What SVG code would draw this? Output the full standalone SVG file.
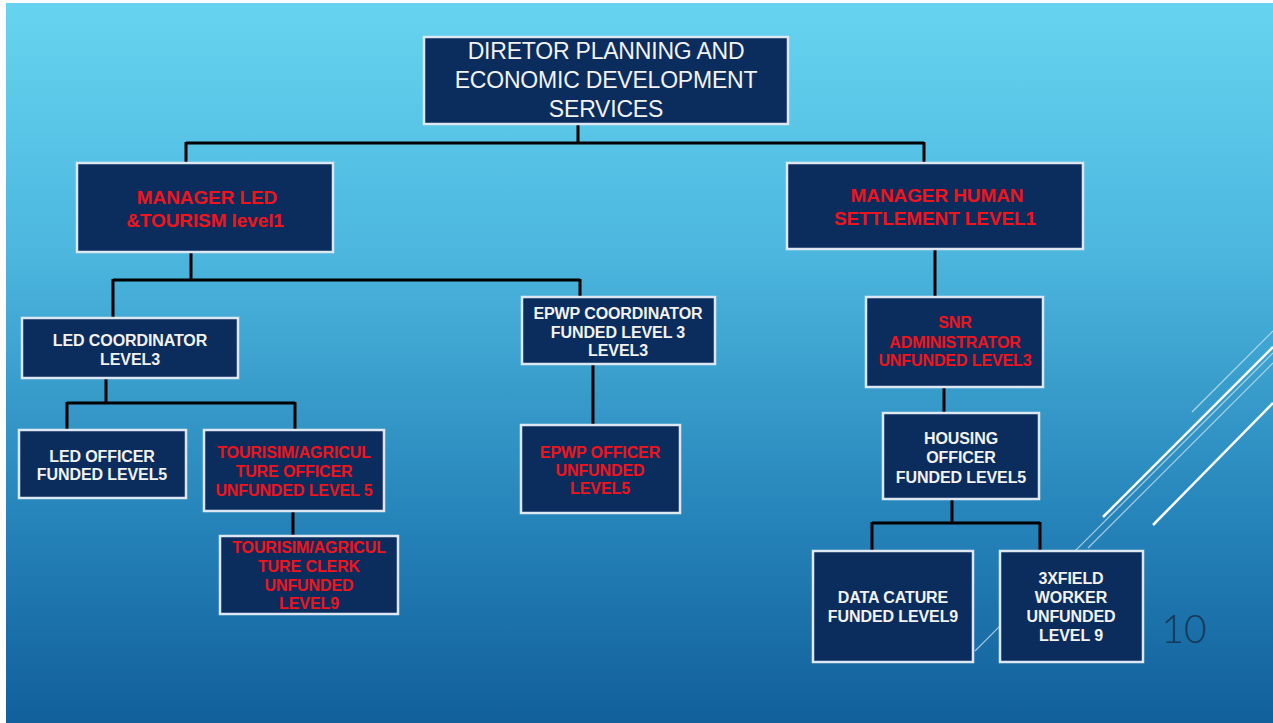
<svg xmlns="http://www.w3.org/2000/svg" width="1273" height="723" viewBox="0 0 1273 723">
<defs>
<linearGradient id="bg" x1="0" y1="0" x2="0" y2="1">
<stop offset="0" stop-color="#66d4f0"/>
<stop offset="0.35" stop-color="#4cb6de"/>
<stop offset="0.7" stop-color="#2786bb"/>
<stop offset="1" stop-color="#115f9b"/>
</linearGradient>
<style>
.box{fill:#0b2d5d;stroke:#dce7f1;stroke-width:2.5}
.con{fill:none;stroke:#000;stroke-width:3}
.dir{font-family:"Liberation Sans",Arial,sans-serif;font-size:23px;fill:#f2f2f2;text-anchor:middle;letter-spacing:-0.2px}
.w{font-family:"Liberation Sans",Arial,sans-serif;font-weight:bold;font-size:16px;fill:#f2f2f2;text-anchor:middle;letter-spacing:-0.1px}
.r{font-family:"Liberation Sans",Arial,sans-serif;font-weight:bold;font-size:16px;fill:#f0141c;text-anchor:middle;letter-spacing:-0.1px}
.rm{font-family:"Liberation Sans",Arial,sans-serif;font-weight:bold;font-size:19px;fill:#f0141c;text-anchor:middle;letter-spacing:-0.1px}
.deco{stroke:#ffffff;fill:none}
</style>
</defs>
<rect x="0" y="0" width="1273" height="723" fill="#ffffff"/>
<rect x="6" y="3" width="1267" height="720" fill="url(#bg)"/>
<g id="decoration">
<line class="deco" x1="1192" y1="412" x2="1273" y2="331" stroke-width="1.2" stroke-opacity="0.6"/>
<line class="deco" x1="1103" y1="517" x2="1273" y2="347" stroke-width="2.5"/>
<line class="deco" x1="975" y1="651" x2="1273" y2="353" stroke-width="1.2" stroke-opacity="0.6"/>
<line class="deco" x1="1088" y1="548" x2="1273" y2="363" stroke-width="1.2" stroke-opacity="0.6"/>
<line class="deco" x1="1153" y1="525" x2="1273" y2="403" stroke-width="2.5"/>
</g>
<g id="connectors">
<path class="con" d="M578 124 V143 M186 143 H924 M186 142 V163 M924 142 V163"/>
<path class="con" d="M191 252 V280 M113 280 H580 M113 279 V318 M580 279 V297"/>
<path class="con" d="M106 378 V403 M67 403 H295 M67 402 V430 M295 402 V430"/>
<path class="con" d="M293 511 V536"/>
<path class="con" d="M593 364 V425"/>
<path class="con" d="M935 249 V297"/>
<path class="con" d="M944 387 V413"/>
<path class="con" d="M952 499 V523 M872 523 H1040 M872 522 V551 M1040 522 V551"/>
</g>
<g id="director">
<rect class="box" x="424" y="37" width="364" height="87"/>
<text class="dir" x="606" y="59">DIRETOR PLANNING AND</text>
<text class="dir" x="606" y="88">ECONOMIC DEVELOPMENT</text>
<text class="dir" x="606" y="117">SERVICES</text>
</g>
<g id="manager-led">
<rect class="box" x="77" y="163" width="256" height="89"/>
<text class="rm" x="207" y="204">MANAGER LED</text>
<text class="rm" x="205" y="227">&amp;TOURISM level1</text>
</g>
<g id="manager-hs">
<rect class="box" x="787" y="163" width="296" height="86"/>
<text class="rm" x="937" y="202">MANAGER HUMAN</text>
<text class="rm" x="935" y="225">SETTLEMENT LEVEL1</text>
</g>
<g id="led-coordinator">
<rect class="box" x="22" y="318" width="216" height="60"/>
<text class="w" x="130" y="346">LED COORDINATOR</text>
<text class="w" x="130" y="365">LEVEL3</text>
</g>
<g id="led-officer">
<rect class="box" x="19" y="430" width="167" height="68"/>
<text class="w" x="102" y="462">LED OFFICER</text>
<text class="w" x="102" y="480">FUNDED LEVEL5</text>
</g>
<g id="tourism-officer">
<rect class="box" x="204" y="430" width="180" height="81"/>
<text class="r" x="294" y="458">TOURISIM/AGRICUL</text>
<text class="r" x="294" y="477">TURE OFFICER</text>
<text class="r" x="294" y="496">UNFUNDED LEVEL 5</text>
</g>
<g id="tourism-clerk">
<rect class="box" x="220" y="536" width="178" height="78"/>
<text class="r" x="309" y="553">TOURISIM/AGRICUL</text>
<text class="r" x="309" y="572">TURE CLERK</text>
<text class="r" x="309" y="591">UNFUNDED</text>
<text class="r" x="309" y="609">LEVEL9</text>
</g>
<g id="epwp-coordinator">
<rect class="box" x="522" y="297" width="193" height="67"/>
<text class="w" x="618" y="319">EPWP COORDINATOR</text>
<text class="w" x="618" y="338">FUNDED LEVEL 3</text>
<text class="w" x="618" y="356">LEVEL3</text>
</g>
<g id="epwp-officer">
<rect class="box" x="521" y="425" width="159" height="88"/>
<text class="r" x="600" y="458">EPWP OFFICER</text>
<text class="r" x="600" y="476">UNFUNDED</text>
<text class="r" x="600" y="494">LEVEL5</text>
</g>
<g id="snr-administrator">
<rect class="box" x="866" y="297" width="177" height="90"/>
<text class="r" x="955" y="328">SNR</text>
<text class="r" x="955" y="348">ADMINISTRATOR</text>
<text class="r" x="955" y="366">UNFUNDED LEVEL3</text>
</g>
<g id="housing-officer">
<rect class="box" x="883" y="413" width="156" height="86"/>
<text class="w" x="961" y="444">HOUSING</text>
<text class="w" x="961" y="463">OFFICER</text>
<text class="w" x="961" y="483">FUNDED LEVEL5</text>
</g>
<g id="data-capture">
<rect class="box" x="813" y="551" width="160" height="111"/>
<text class="w" x="893" y="603">DATA CATURE</text>
<text class="w" x="893" y="622">FUNDED LEVEL9</text>
</g>
<g id="field-worker">
<rect class="box" x="1000" y="551" width="143" height="111"/>
<text class="w" x="1071" y="584">3XFIELD</text>
<text class="w" x="1071" y="603">WORKER</text>
<text class="w" x="1071" y="622">UNFUNDED</text>
<text class="w" x="1071" y="641">LEVEL 9</text>
</g>
<text x="1184" y="643" font-family="Lato,'Open Sans',sans-serif" font-weight="300" font-size="39" fill="#163a58" text-anchor="middle">10</text>
</svg>
